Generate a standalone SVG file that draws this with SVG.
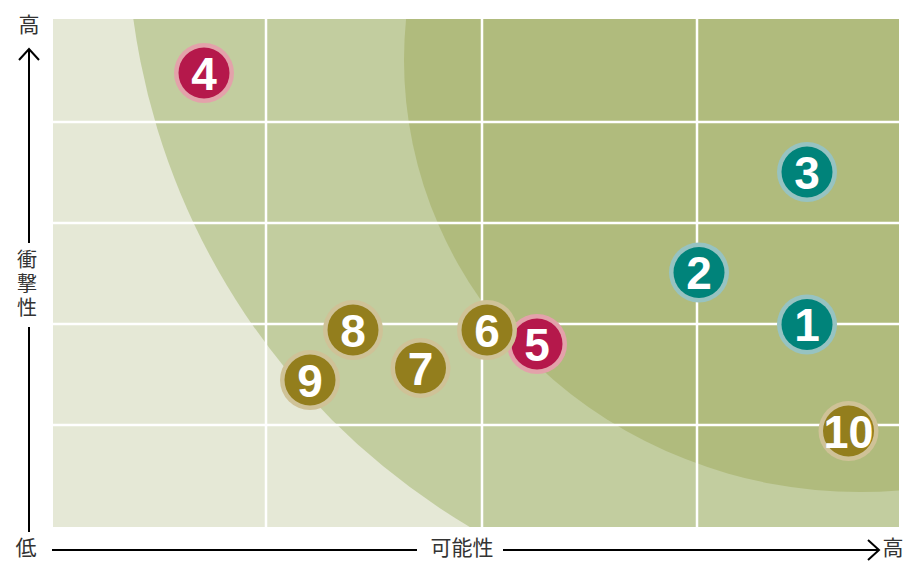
<svg xmlns="http://www.w3.org/2000/svg" width="910" height="562" viewBox="0 0 910 562">
<style>
.ax{font-family:"Noto Sans CJK JP","Noto Sans CJK SC",sans-serif;font-size:21px;fill:#333;}
.axv{font-family:"Noto Sans CJK JP","Noto Sans CJK SC",sans-serif;font-size:20px;fill:#333;writing-mode:vertical-rl;letter-spacing:4px;}
.axl{stroke:#000;stroke-width:2;fill:none;}
.grid{stroke:#fff;stroke-width:2.5;}
.num{font-family:"Liberation Sans",Arial,sans-serif;font-weight:bold;font-size:46px;fill:#fff;text-anchor:middle;}
.teal .halo{fill:#97c3c1;} .teal .core{fill:#00837a;}
.red .halo{fill:#e3a2aa;} .red .core{fill:#b5184b;}
.olive .halo{fill:#cfc297;} .olive .core{fill:#937e1d;}
</style>
<defs>
<clipPath id="plot"><rect x="53" y="19" width="846" height="508"/></clipPath>
</defs>
<g id="background" clip-path="url(#plot)">
<rect x="53" y="19" width="846" height="508" fill="#e5e8d6"/>
<circle cx="827" cy="-75" r="700" fill="#c2cd9f"/>
<ellipse cx="860" cy="60" rx="456" ry="432" fill="#b0bb7d"/>
</g>
<g id="grid">
<line class="grid" x1="266" y1="19" x2="266" y2="527"/>
<line class="grid" x1="482" y1="19" x2="482" y2="527"/>
<line class="grid" x1="697" y1="19" x2="697" y2="527"/>
<line class="grid" x1="53" y1="122" x2="899" y2="122"/>
<line class="grid" x1="53" y1="223" x2="899" y2="223"/>
<line class="grid" x1="53" y1="324" x2="899" y2="324"/>
<line class="grid" x1="53" y1="425" x2="899" y2="425"/>
</g>
<g id="axes">
<line class="axl" x1="29" y1="50" x2="29" y2="243"/>
<polyline class="axl" points="19,60 29,49 39,60"/>
<line class="axl" x1="29" y1="327" x2="29" y2="532"/>
<line class="axl" x1="52" y1="550" x2="417" y2="550"/>
<line class="axl" x1="503" y1="550" x2="879" y2="550"/>
<polyline class="axl" points="868,540 879,550 868,560"/>
<text class="ax" x="29" y="32" text-anchor="middle">高</text>
<text class="axv" x="27" y="249">衝撃性</text>
<text class="ax" x="26" y="555" text-anchor="middle">低</text>
<text class="ax" x="462" y="555" text-anchor="middle">可能性</text>
<text class="ax" x="893" y="555" text-anchor="middle">高</text>
</g>
<g id="markers">
<g id="n4" class="red"><circle class="halo" cx="204" cy="73" r="30"/><circle class="core" cx="204" cy="73" r="25.5"/><text class="num" x="204" y="89.5">4</text></g>
<g id="n3" class="teal"><circle class="halo" cx="807" cy="172" r="30"/><circle class="core" cx="807" cy="172" r="25.5"/><text class="num" x="807" y="188.5">3</text></g>
<g id="n2" class="teal"><circle class="halo" cx="699" cy="272.5" r="30"/><circle class="core" cx="699" cy="272.5" r="25.5"/><text class="num" x="699" y="289">2</text></g>
<g id="n1" class="teal"><circle class="halo" cx="807" cy="324.5" r="30"/><circle class="core" cx="807" cy="324.5" r="25.5"/><text class="num" x="807" y="341">1</text></g>
<g id="n10" class="olive"><circle class="halo" cx="848.5" cy="431" r="30"/><circle class="core" cx="848.5" cy="431" r="25.5"/><text class="num" x="848.5" y="447.5" textLength="50" lengthAdjust="spacingAndGlyphs">10</text></g>
<g id="n5" class="red"><circle class="halo" cx="537" cy="344" r="30"/><circle class="core" cx="537" cy="344" r="25.5"/><text class="num" x="537" y="360.5">5</text></g>
<g id="n6" class="olive"><circle class="halo" cx="487" cy="330" r="30"/><circle class="core" cx="487" cy="330" r="25.5"/><text class="num" x="487" y="346.5">6</text></g>
<g id="n7" class="olive"><circle class="halo" cx="420.5" cy="368" r="30"/><circle class="core" cx="420.5" cy="368" r="25.5"/><text class="num" x="420.5" y="384.5">7</text></g>
<g id="n8" class="olive"><circle class="halo" cx="353" cy="330" r="30"/><circle class="core" cx="353" cy="330" r="25.5"/><text class="num" x="353" y="346.5">8</text></g>
<g id="n9" class="olive"><circle class="halo" cx="310" cy="380" r="30"/><circle class="core" cx="310" cy="380" r="25.5"/><text class="num" x="310" y="396.5">9</text></g>
</g>
</svg>
